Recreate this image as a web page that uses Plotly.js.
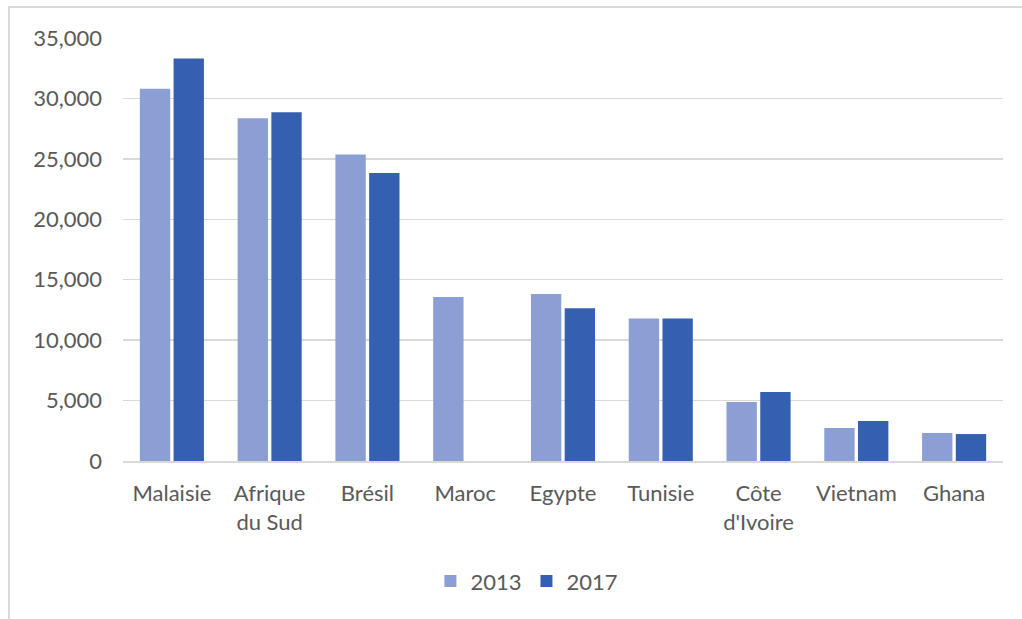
<!DOCTYPE html>
<html>
<head>
<meta charset="utf-8">
<script src="https://cdn.plot.ly/plotly-3.0.1.min.js"></script>
<style>
html,body{margin:0;padding:0;background:#fff;}
#wrap{position:relative;width:1022px;height:619px;overflow:hidden;}
#frame{position:absolute;left:8px;top:6px;right:-10px;bottom:-10px;border-left:2px solid #d9d9d9;border-top:2px solid #d9d9d9;pointer-events:none;z-index:5;}
#chart{position:absolute;left:0;top:0;width:1022px;height:619px;}
</style>
</head>
<body>
<div id="wrap"><div id="chart"></div><div id="frame"></div></div>
<script>
const categories = ["Malaisie", "Afrique<br>du Sud", "Brésil", "Maroc", "Egypte", "Tunisie", "Côte<br>d'Ivoire", "Vietnam", "Ghana"];
const values2013 = [30800, 28350, 25370, 13570, 13820, 11800, 4880, 2730, 2320];
const values2017 = [33300, 28850, 23830, null, 12630, 11800, 5710, 3310, 2230];
const seriesNames = ["2013", "2017"];
const yTicks = [0, 5000, 10000, 15000, 20000, 25000, 30000, 35000];
const yTickLabels = ["0", "5,000", "10,000", "15,000", "20,000", "25,000", "30,000", "35,000"];

const FONT = "Lato, 'Open Sans', sans-serif";
const FS = 22;
const data = [
  {type: "bar", name: seriesNames[0], x: categories, y: values2013,
   marker: {color: "#8c9fd4", line: {width: 0}}, hoverinfo: "x+y"},
  {type: "bar", name: seriesNames[1], x: categories, y: values2017,
   marker: {color: "#3560b1", line: {width: 0}}, hoverinfo: "x+y"}
];
const layout = {
  width: 1022, height: 619,
  margin: {l: 123, r: 19, t: 38, b: 158},
  paper_bgcolor: "#ffffff", plot_bgcolor: "#ffffff",
  barmode: "group", bargap: 0.31, bargroupgap: 0.1,
  font: {family: FONT, size: FS, color: "#595959"},
  showlegend: true,
  legend: {orientation: "h", x: 0.459, xanchor: "center", y: -0.284, yanchor: "middle",
           font: {family: FONT, size: FS, color: "#595959"}, itemwidth: 30, traceorder: "normal"},
  xaxis: {type: "category", showgrid: false, showline: true, linecolor: "#d9d9d9", linewidth: 2,
          ticks: "", tickfont: {family: FONT, size: FS, color: "#595959"}, ticklabelstandoff: 12,
          fixedrange: true},
  yaxis: {range: [0, 35000], tickvals: yTicks, ticktext: yTickLabels, showgrid: true,
          gridcolor: "#d9d9d9", gridwidth: 1.5, zeroline: false, showline: false, ticks: "",
          tickfont: {family: FONT, size: FS, color: "#595959"}, ticklabelstandoff: 20,
          fixedrange: true}
};
Plotly.newPlot("chart", data, layout, {displayModeBar: false, staticPlot: true});
</script>
</body>
</html>
